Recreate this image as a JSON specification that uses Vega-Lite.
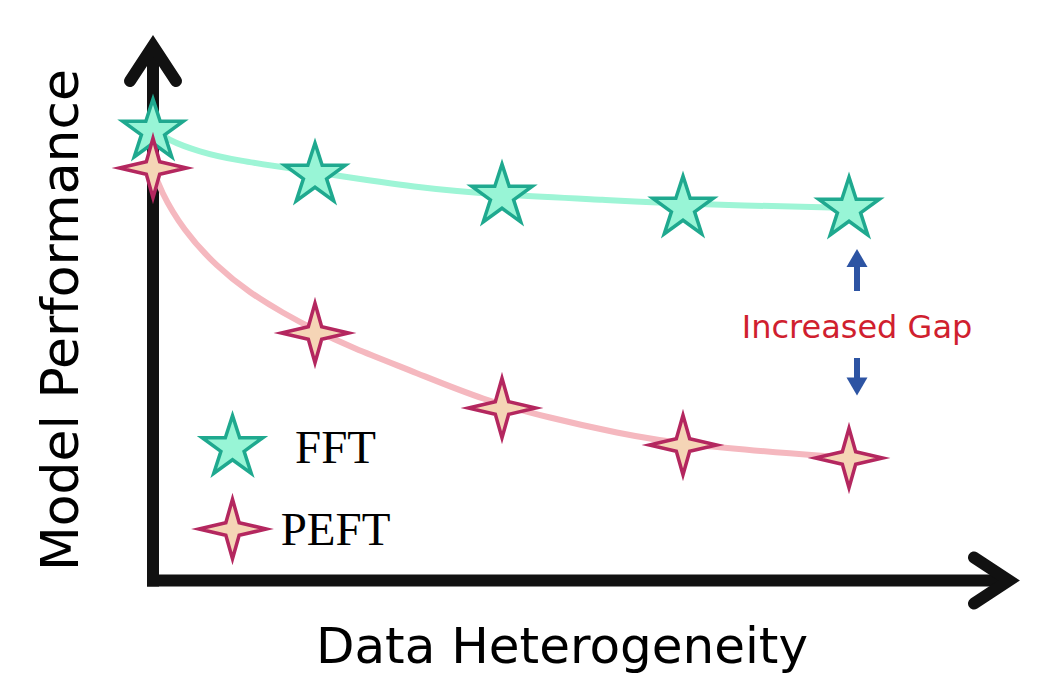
{
  "$schema": "https://vega.github.io/schema/vega-lite/v6.json",
  "width": 1045,
  "height": 693,
  "autosize": {"type": "none"},
  "padding": 0,
  "background": "#ffffff",
  "config": {"view": {"stroke": null}},
  "datasets": {
    "axisLines": [
      {"x": 0, "y": 0, "x2": 8.46, "y2": 0},
      {"x": 0, "y": 0, "x2": 0, "y2": 5.25}
    ],
    "arrowHeads": [
      {"axis": "y", "order": 1, "x": -0.23, "y": 4.995},
      {"axis": "y", "order": 2, "x": 0, "y": 5.345},
      {"axis": "y", "order": 3, "x": 0.23, "y": 4.995},
      {"axis": "x", "order": 1, "x": 8.21, "y": 0.23},
      {"axis": "x", "order": 2, "x": 8.56, "y": 0},
      {"axis": "x", "order": 3, "x": 8.21, "y": -0.23}
    ],
    "curves": [
      {"series": "FFT", "x": 0, "y": 4.525},
      {"series": "FFT", "x": 0.14, "y": 4.405},
      {"series": "FFT", "x": 0.47, "y": 4.285},
      {"series": "FFT", "x": 0.8, "y": 4.205},
      {"series": "FFT", "x": 1.62, "y": 4.085},
      {"series": "FFT", "x": 2.64, "y": 3.925},
      {"series": "FFT", "x": 3.49, "y": 3.855},
      {"series": "FFT", "x": 4.54, "y": 3.805},
      {"series": "FFT", "x": 5.3, "y": 3.765},
      {"series": "FFT", "x": 6.96, "y": 3.725},
      {"series": "PEFT", "x": 0, "y": 4.125},
      {"series": "PEFT", "x": 0.07, "y": 3.905},
      {"series": "PEFT", "x": 0.3, "y": 3.505},
      {"series": "PEFT", "x": 0.64, "y": 3.135},
      {"series": "PEFT", "x": 0.97, "y": 2.875},
      {"series": "PEFT", "x": 1.3, "y": 2.675},
      {"series": "PEFT", "x": 1.62, "y": 2.505},
      {"series": "PEFT", "x": 1.97, "y": 2.335},
      {"series": "PEFT", "x": 2.64, "y": 2.075},
      {"series": "PEFT", "x": 3.3, "y": 1.805},
      {"series": "PEFT", "x": 3.97, "y": 1.625},
      {"series": "PEFT", "x": 4.64, "y": 1.475},
      {"series": "PEFT", "x": 5.3, "y": 1.355},
      {"series": "PEFT", "x": 6.96, "y": 1.225}
    ],
    "stars": [
      {"series": "FFT", "x": 0, "y": 4.525},
      {"series": "FFT", "x": 1.62, "y": 4.085},
      {"series": "FFT", "x": 3.49, "y": 3.875},
      {"series": "FFT", "x": 5.3, "y": 3.755},
      {"series": "FFT", "x": 6.96, "y": 3.745},
      {"series": "PEFT", "x": 0, "y": 4.125},
      {"series": "PEFT", "x": 1.62, "y": 2.475},
      {"series": "PEFT", "x": 3.49, "y": 1.725},
      {"series": "PEFT", "x": 5.3, "y": 1.355},
      {"series": "PEFT", "x": 6.96, "y": 1.225}
    ],
    "legend": [
      {"series": "FFT", "x": 0.795, "y": 1.36, "labelX": 1.825, "labelY": 1.175},
      {"series": "PEFT", "x": 0.795, "y": 0.515, "labelX": 1.825, "labelY": 0.355}
    ],
    "gapShafts": [
      {"x": 7.04, "y": 2.895, "y2": 3.16},
      {"x": 7.04, "y": 2.225, "y2": 2.01}
    ],
    "gapHeads": [
      {"dir": "up", "x": 7.04, "y": 3.225},
      {"dir": "down", "x": 7.04, "y": 1.94}
    ],
    "texts": [
      {"role": "gap", "label": "Increased Gap", "x": 7.04, "y": 2.425},
      {"role": "xtitle", "label": "Data Heterogeneity", "x": 4.09, "y": -0.825},
      {"role": "ytitle", "label": "Model Performance", "x": -0.75, "y": 2.605}
    ]
  },
  "encoding": {
    "x": {"field": "x", "type": "quantitative", "scale": {"domain": [-1.53, 8.92], "nice": false, "zero": false}, "axis": null},
    "y": {"field": "y", "type": "quantitative", "scale": {"domain": [-1.125, 5.805], "nice": false, "zero": false}, "axis": null}
  },
  "layer": [
    {
      "data": {"name": "axisLines"},
      "mark": {"type": "rule", "color": "#111111", "strokeWidth": 12, "strokeCap": "square"},
      "encoding": {
        "x2": {"field": "x2"},
        "y2": {"field": "y2"}
      }
    },
    {
      "data": {"name": "arrowHeads"},
      "mark": {"type": "line", "color": "#111111", "strokeWidth": 12, "strokeCap": "round", "strokeJoin": "miter", "strokeMiterLimit": 10},
      "encoding": {
        "detail": {"field": "axis"},
        "order": {"field": "order", "type": "quantitative"}
      }
    },
    {
      "data": {"name": "curves"},
      "mark": {"type": "line", "strokeWidth": 6, "interpolate": "basis"},
      "encoding": {
        "color": {"field": "series", "type": "nominal", "scale": {"domain": ["FFT", "PEFT"], "range": ["#9ef5d6", "#f5b8bf"]}, "legend": null}
      }
    },
    {
      "data": {"name": "stars"},
      "mark": {"type": "point", "filled": true, "opacity": 1, "size": 6150, "strokeWidth": 3.5, "strokeJoin": "miter", "strokeMiterLimit": 10},
      "encoding": {
        "shape": {"field": "series", "type": "nominal", "scale": {"domain": ["FFT", "PEFT"], "range": ["M0,-0.736L0.183,-0.174L0.774,-0.174L0.296,0.174L0.479,0.737L0,0.389L-0.479,0.737L-0.296,0.174L-0.774,-0.174L-0.183,-0.174Z", "M0,-0.76L0.17,-0.16L0.86,0L0.17,0.16L0,0.76L-0.17,0.16L-0.86,0L-0.17,-0.16Z"]}, "legend": null},
        "fill": {"field": "series", "type": "nominal", "scale": {"domain": ["FFT", "PEFT"], "range": ["#98f5d6", "#f5d5b6"]}, "legend": null},
        "stroke": {"field": "series", "type": "nominal", "scale": {"domain": ["FFT", "PEFT"], "range": ["#1fa98f", "#b4275f"]}, "legend": null}
      }
    },
    {
      "data": {"name": "legend"},
      "mark": {"type": "point", "filled": true, "opacity": 1, "size": 6150, "strokeWidth": 3.5, "strokeJoin": "miter", "strokeMiterLimit": 10},
      "encoding": {
        "shape": {"field": "series", "type": "nominal", "legend": null},
        "fill": {"field": "series", "type": "nominal", "legend": null},
        "stroke": {"field": "series", "type": "nominal", "legend": null}
      }
    },
    {
      "data": {"name": "legend"},
      "mark": {"type": "text", "font": "Liberation Serif", "fontSize": 47, "color": "#000000", "align": "center", "baseline": "alphabetic"},
      "encoding": {
        "x": {"field": "labelX", "type": "quantitative"},
        "y": {"field": "labelY", "type": "quantitative"},
        "text": {"field": "series"}
      }
    },
    {
      "data": {"name": "gapShafts"},
      "mark": {"type": "rule", "color": "#2d54a3", "strokeWidth": 6},
      "encoding": {
        "y2": {"field": "y2"}
      }
    },
    {
      "data": {"name": "gapHeads"},
      "transform": [{"filter": "datum.dir === 'up'"}],
      "mark": {"type": "point", "shape": "triangle-up", "filled": true, "opacity": 1, "size": 441, "color": "#2d54a3"}
    },
    {
      "data": {"name": "gapHeads"},
      "transform": [{"filter": "datum.dir === 'down'"}],
      "mark": {"type": "point", "shape": "triangle-down", "filled": true, "opacity": 1, "size": 441, "color": "#2d54a3"}
    },
    {
      "data": {"name": "texts"},
      "transform": [{"filter": "datum.role === 'gap'"}],
      "mark": {"type": "text", "font": "DejaVu Sans", "fontSize": 32, "color": "#d01f2f", "align": "center", "baseline": "alphabetic"},
      "encoding": {"text": {"field": "label"}}
    },
    {
      "data": {"name": "texts"},
      "transform": [{"filter": "datum.role === 'xtitle'"}],
      "mark": {"type": "text", "font": "DejaVu Sans", "fontSize": 50, "color": "#000000", "align": "center", "baseline": "alphabetic"},
      "encoding": {"text": {"field": "label"}}
    },
    {
      "data": {"name": "texts"},
      "transform": [{"filter": "datum.role === 'ytitle'"}],
      "mark": {"type": "text", "font": "DejaVu Sans", "fontSize": 52, "color": "#000000", "align": "center", "baseline": "alphabetic", "angle": 270},
      "encoding": {"text": {"field": "label"}}
    }
  ]
}
